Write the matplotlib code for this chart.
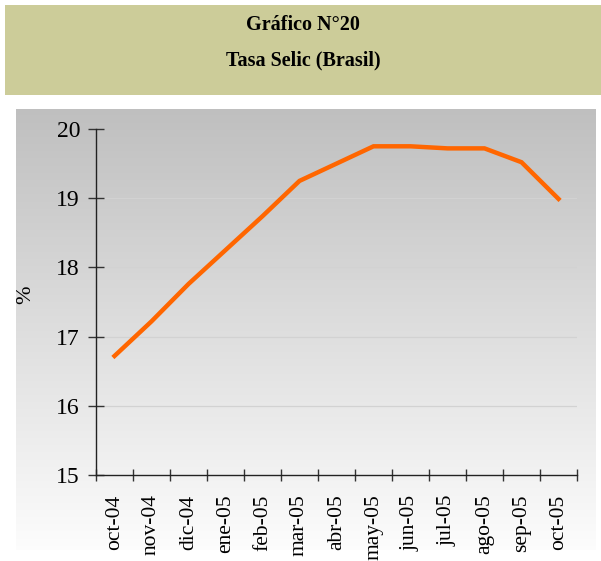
import matplotlib
matplotlib.use("Agg")
import matplotlib.pyplot as plt
import numpy as np
from matplotlib.patches import Rectangle

months = ["oct-04", "nov-04", "dic-04", "ene-05", "feb-05", "mar-05", "abr-05",
          "may-05", "jun-05", "jul-05", "ago-05", "sep-05", "oct-05"]
selic = [16.72, 17.22, 17.76, 18.25, 18.74, 19.25, 19.50,
         19.75, 19.75, 19.72, 19.72, 19.52, 18.99]
yticks = [15, 16, 17, 18, 19, 20]
title1 = "Gráfico N°20"
title2 = "Tasa Selic (Brasil)"

W, H = 601, 561
plt.rcParams['font.family'] = ['Liberation Serif', 'DejaVu Serif']
fig = plt.figure(figsize=(W / 100, H / 100), dpi=100)
fig.patch.set_facecolor('white')

def fx(px):
    return px / W

def fy(py):
    return 1 - py / H

# title box
fig.patches.append(Rectangle((fx(5), fy(95)), fx(601) - fx(5), fy(5) - fy(95),
                             transform=fig.transFigure, facecolor='#CCCC99',
                             edgecolor='none', zorder=0))
fig.text(0.5 * (fx(5) + 1), fy(25), title1, ha='center', va='center',
         fontsize=14.5, fontweight='bold', color='black')
fig.text(0.5 * (fx(5) + 1), fy(60), title2, ha='center', va='center',
         fontsize=14.5, fontweight='bold', color='black')

# gradient background
bg = fig.add_axes([fx(16), fy(550), fx(596) - fx(16), fy(109) - fy(550)])
grad = np.linspace(0, 1, 256).reshape(-1, 1)
top = np.array([0.75, 0.75, 0.75])
bot = np.array([0.99, 0.99, 0.99])
img = top + (bot - top) * grad[:, :, None]
bg.imshow(img, aspect='auto', extent=[0, 1, 0, 1], origin='upper')
bg.set_axis_off()

ax = fig.add_axes([fx(96), fy(475), fx(577) - fx(96), fy(129) - fy(475)])
ax.set_facecolor('none')
x = np.arange(len(months))
ax.plot(x, selic, color='#FF6600', linewidth=3.2, solid_joinstyle='miter', zorder=3)
ax.set_xlim(-0.5, len(months) - 0.5)
ax.set_ylim(15, 20)
ax.set_yticks(yticks)
ax.set_yticklabels([str(v) for v in yticks], fontsize=17)
ax.set_xticks(x)
ax.set_xticklabels(months, rotation=90, fontsize=15.5)
ax.set_xticks(np.arange(-0.5, len(months)), minor=True)
ax.tick_params(axis='x', which='major', length=0, pad=14)
ax.tick_params(axis='x', which='minor', direction='inout', length=9, width=1, color='#333333')
ax.tick_params(axis='y', direction='inout', length=11, width=1, pad=6, color='#333333')
for s in ['top', 'right']:
    ax.spines[s].set_visible(False)
for s in ['left', 'bottom']:
    ax.spines[s].set_color('#222222')
    ax.spines[s].set_linewidth(1)
for v in yticks[1:-1]:
    ax.axhline(v, color='#D2D2D2', linewidth=0.9, zorder=1)
ax.set_ylabel('%', fontsize=16)
ax.yaxis.set_label_coords((35 - 96) / (577 - 96), (475 - 295) / (475 - 129))

fig.savefig('out.png', dpi=100)
